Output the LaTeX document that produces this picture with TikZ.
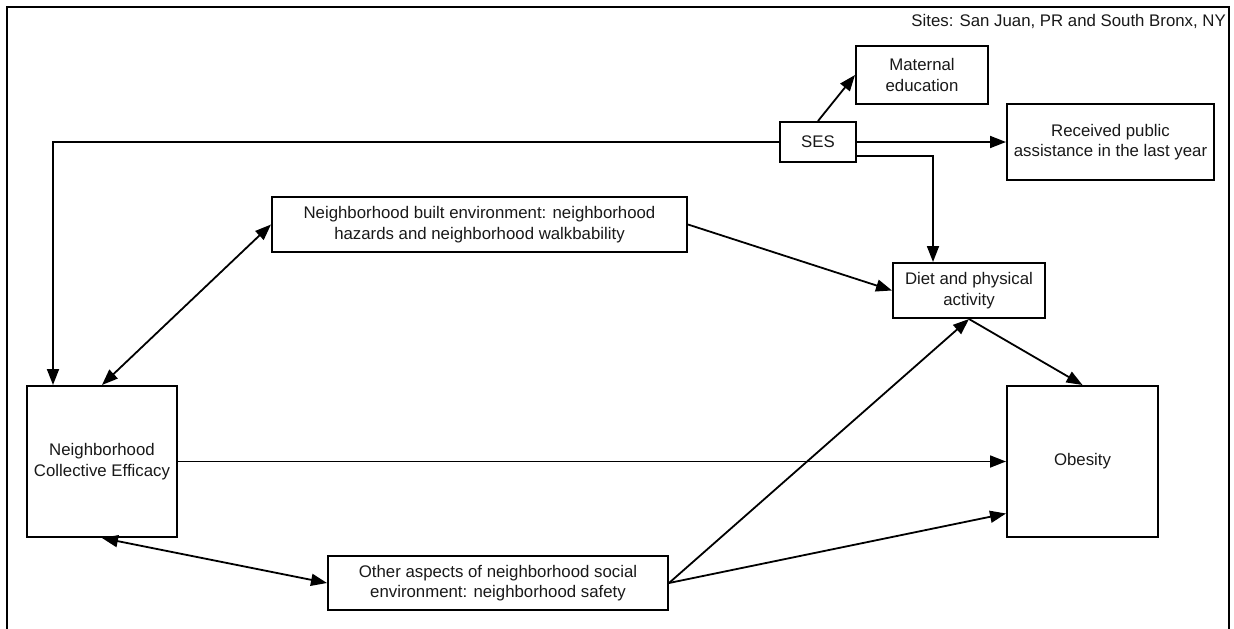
\documentclass[tikz,border=0pt]{standalone}
\usepackage{fontspec}
\setmainfont{Liberation Sans}
\usetikzlibrary{arrows.meta}
\begin{document}
\begin{tikzpicture}[x=1pt,y=-1pt,
  every node/.style={font=\fontsize{16.8}{20.5}\selectfont, text=black!90},
  box/.style={draw, line width=2pt, align=center, inner sep=0pt, anchor=center},
  arr/.style={line width=1.8pt, -{Triangle[length=16pt,width=12pt]}},
  darr/.style={line width=1.8pt, {Triangle[length=16pt,width=12pt]}-{Triangle[length=16pt,width=12pt]}},
  frameline/.style={line width=1.8pt}]
\useasboundingbox (0,0) rectangle (1234,629);
\fill[white] (0,0) rectangle (1234,629);
\draw[frameline] (7,629) -- (7,7) -- (1229,7) -- (1229,629);
\node[anchor=base east, inner sep=0pt] (sites) at (1226,27) {Sites: San Juan, PR and South Bronx, NY};

\node[box, minimum width=132pt, minimum height=58pt] (mat) at (922,75) {Maternal\\education};
\node[box, minimum width=76pt, minimum height=40pt] (ses) at (818,142) {SES};
\node[box, minimum width=207pt, minimum height=76pt] (rec) at (1110.5,142) {Received public\\assistance in the last year};
\node[box, minimum width=415pt, minimum height=55pt] (built) at (479.5,224.5) {Neighborhood built environment: neighborhood\\hazards and neighborhood walkbability};
\node[box, minimum width=152pt, minimum height=55pt] (diet) at (969,290.5) {Diet and physical\\activity};
\node[box, minimum width=150pt, minimum height=151pt] (nce) at (102,461.5) {Neighborhood\\Collective Efficacy};
\node[box, minimum width=151pt, minimum height=151pt] (obe) at (1082.5,461.5) {Obesity};
\node[box, minimum width=340pt, minimum height=54pt] (oth) at (498,583) {Other aspects of neighborhood social\\environment: neighborhood safety};

\draw[arr] (ses.north) -- (mat.west);
\draw[arr] (ses.east) -- (rec.west);
\draw[arr] ([yshift=-14pt]ses.east) -| ([xshift=-36pt]diet.north);
\draw[arr] (ses.west) -| ([xshift=-49pt]nce.north);
\draw[darr] (nce.north) -- (built.west);
\draw[arr] (built.east) -- (diet.west);
\draw[arr] (diet.south) -- (obe.north);
\draw[arr] (nce.east) -- (obe.west);
\draw[darr] (nce.south) -- (oth.west);
\draw[arr] (oth.east) -- (diet.south);
\draw[arr] (oth.east) -- ([yshift=-52pt]obe.west);
\end{tikzpicture}
\end{document}
